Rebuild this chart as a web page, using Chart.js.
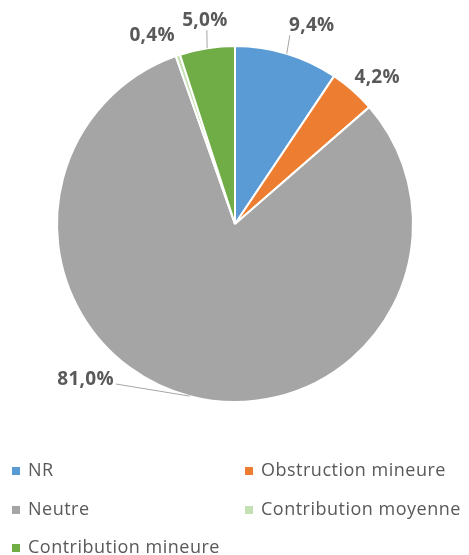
<!DOCTYPE html>
<html>
<head>
<meta charset="utf-8">
<script src="https://cdn.jsdelivr.net/npm/chart.js@4.4.1/dist/chart.umd.min.js"></script>
<style>
  html, body { margin: 0; padding: 0; background: #fff; }
  #wrap { width: 469px; height: 555px; position: relative; }
</style>
</head>
<body>
<div id="wrap"><canvas id="pieChart" width="469" height="555"></canvas></div>
<script>
// Répartition des réponses
const categories = ['NR', 'Obstruction mineure', 'Neutre', 'Contribution moyenne', 'Contribution mineure'];
const values = [9.4, 4.2, 81.0, 0.4, 5.0];
const colors = ['#5b9bd5', '#ed7d31', '#a5a5a5', '#c5e0b4', '#70ad47'];

// label placement around the pie: extra radius, angle shift (deg), leader line
const labelRadius = [213, 204, 216, 206, 206];
const labelShift = [4.2, 2.8, 29, -5, 0.6];
const labelLeader = [true, false, true, false, true];

const textColor = '#595959';
const fontFamily = '"Open Sans", "Noto Sans", sans-serif';

function formatPct(v) {
    return v.toFixed(1).replace('.', ',') + '%';
}

// Draws the percentage labels with their leader lines
const outsideLabels = {
    id: 'outsideLabels',
    afterDatasetsDraw(chart) {
        const ctx = chart.ctx;
        const meta = chart.getDatasetMeta(0);
        ctx.save();
        ctx.font = 'bold 19px ' + fontFamily;
        ctx.letterSpacing = '0.3px';
        ctx.textAlign = 'center';
        ctx.textBaseline = 'middle';
        meta.data.forEach((arc, i) => {
            const p = arc.getProps(['x', 'y', 'startAngle', 'endAngle', 'outerRadius'], true);
            const mid = (p.startAngle + p.endAngle) / 2;
            const ang = mid + labelShift[i] * Math.PI / 180;
            const lx = p.x + Math.cos(ang) * labelRadius[i];
            const ly = p.y + Math.sin(ang) * labelRadius[i];
            const text = formatPct(values[i]);
            if (labelLeader[i]) {
                const ex = p.x + Math.cos(mid) * p.outerRadius;
                const ey = p.y + Math.sin(mid) * p.outerRadius;
                const w = ctx.measureText(text).width;
                let tx, ty;
                if (Math.abs(lx - ex) > 40) {
                    // side leader ending at text edge
                    tx = lx + (ex > lx ? w / 2 + 2 : -w / 2 - 2);
                    ty = ly + 4;
                } else {
                    tx = ex + (lx - ex) * 0.12;
                    ty = ly + 10;
                }
                ctx.beginPath();
                ctx.moveTo(ex, ey);
                ctx.lineTo(tx, ty);
                ctx.strokeStyle = '#a6a6a6';
                ctx.lineWidth = 1;
                ctx.stroke();
            }
            ctx.fillStyle = textColor;
            ctx.fillText(text, lx, ly);
        });
        ctx.restore();
    }
};

// Two-column legend under the pie
const gridLegend = {
    id: 'gridLegend',
    afterDraw(chart) {
        const ctx = chart.ctx;
        const colX = [12, 245];
        const rowY = [471, 510, 548];
        ctx.save();
        ctx.font = '18px ' + fontFamily;
        ctx.letterSpacing = '0.5px';
        ctx.textBaseline = 'middle';
        ctx.textAlign = 'left';
        chart.data.labels.forEach((label, i) => {
            const x = colX[i % 2];
            const y = rowY[Math.floor(i / 2)];
            ctx.fillStyle = colors[i];
            ctx.fillRect(x, y - 4, 8, 8);
            ctx.fillStyle = textColor;
            ctx.fillText(label, x + 16, y);
        });
        ctx.restore();
    }
};

const pieChart = new Chart(document.getElementById('pieChart'), {
    type: 'pie',
    data: {
        labels: categories,
        datasets: [{
            data: values,
            backgroundColor: colors,
            borderColor: '#ffffff',
            borderWidth: 2
        }]
    },
    options: {
        responsive: false,
        animation: false,
        layout: {
            padding: { left: 56, right: 55, top: 45, bottom: 152 }
        },
        plugins: {
            legend: { display: false },
            tooltip: { enabled: false }
        }
    },
    plugins: [outsideLabels, gridLegend]
});
</script>
</body>
</html>
